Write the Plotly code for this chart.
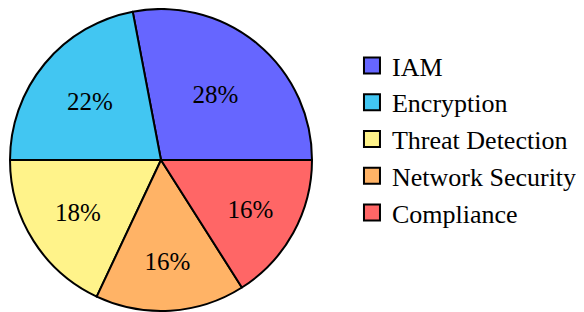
import plotly.graph_objects as go

labels = ["IAM", "Encryption", "Threat Detection", "Network Security", "Compliance"]
values = [28, 22, 18, 16, 16]
colors = ["#6666ff", "#42c6f2", "#fff38a", "#ffb366", "#ff6666"]

SERIF = "Times New Roman, Liberation Serif, Times, serif"

fig = go.Figure()
fig.add_trace(go.Pie(
    labels=labels, values=values, sort=False, direction="counterclockwise", rotation=-10.8,
    marker=dict(colors=colors, line=dict(color="black", width=2)),
    textinfo="percent", texttemplate="%{percent:.0%}", textposition="inside",
    insidetextorientation="horizontal",
    textfont=dict(family=SERIF, size=25, color="black"),
    domain=dict(x=[2/584, 304/584], y=[9/312, 311/312]),
    showlegend=False,
))
# legend entries (square swatches) built from the same lists
for lab, col in zip(labels, colors):
    fig.add_trace(go.Scatter(
        x=[None], y=[None], mode="markers", name=lab,
        marker=dict(symbol="square", size=16, color=col, line=dict(color="black", width=2)),
    ))
fig.update_layout(
    width=584, height=312, margin=dict(l=0, r=0, t=0, b=0),
    paper_bgcolor="white", plot_bgcolor="white",
    font=dict(family=SERIF, color="black"),
    xaxis=dict(visible=False), yaxis=dict(visible=False),
    legend=dict(x=0.589, y=0.891, xanchor="left", yanchor="top",
                font=dict(size=26, family=SERIF, color="black")),
)
fig.write_html("out.html")
